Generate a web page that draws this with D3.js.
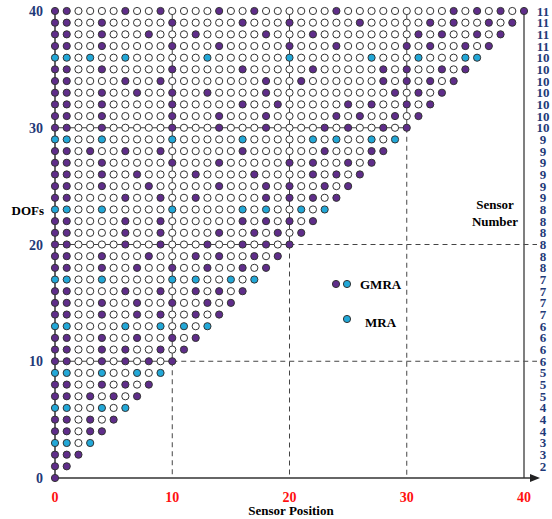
<!DOCTYPE html>
<html>
<head>
<meta charset="utf-8">
<script src="https://cdn.jsdelivr.net/npm/d3@7"></script>
<style>
body { margin: 0; background: #fff; }
svg { display: block; }
</style>
</head>
<body>
<svg width="552" height="519"></svg>
<script>
// sensor positions for each DOF row (row index = DOF)
var rows = [
  [0],
  [0,1],
  [0,1,2],
  [0,1,3],
  [0,1,3,4],
  [0,1,3,5],
  [0,1,4,6],
  [0,1,3,5,7],
  [0,1,4,6,8],
  [0,1,4,7,9],
  [0,1,4,6,8,10],
  [0,1,4,6,9,11],
  [0,1,4,7,10,12],
  [0,1,6,9,11,13],
  [0,1,4,7,9,12,14],
  [0,1,4,7,10,13,15],
  [0,1,6,9,12,14,16],
  [0,1,4,10,12,15,17],
  [0,1,4,7,10,13,16,18],
  [0,1,4,8,12,14,17,19],
  [0,1,6,9,13,16,18,20],
  [0,1,6,9,14,17,19,21],
  [0,1,6,9,16,18,20,22],
  [0,1,4,10,16,18,21,23],
  [0,1,6,9,12,18,20,22,24],
  [0,1,4,8,14,18,20,23,25],
  [0,1,4,7,12,17,22,24,26],
  [0,1,4,10,14,20,22,25,27],
  [0,1,3,6,9,16,23,27,28],
  [0,1,4,10,16,22,24,27,29],
  [0,1,4,10,14,18,23,25,28,30],
  [0,1,4,10,14,18,24,26,29,31],
  [0,1,4,10,16,19,25,27,30,32],
  [0,1,4,7,10,13,18,29,31,33],
  [0,1,6,9,18,21,28,30,32,34],
  [0,1,4,10,16,22,28,30,33,35],
  [0,1,3,6,13,20,27,31,35,36],
  [0,1,4,10,14,20,24,30,32,35,37],
  [0,1,4,8,12,18,22,31,33,36,38],
  [0,1,4,10,16,20,26,32,34,37,39],
  [0,1,6,9,14,17,24,34,36,38,40]
];
// rows that are MRA (drawn cyan)
var mraRows = [3, 6, 9, 13, 17, 23, 29, 36];
// sensor number for DOF 1..40
var sensorNum = [2,3,3,4,4,4,5,5,5,6,6,6,6,7,7,7,7,8,8,8,8,8,8,9,9,9,9,9,9,10,10,10,10,10,10,10,11,11,11,11];
var xTicks = [0, 10, 20, 30, 40];
var yTicks = [0, 10, 20, 30, 40];
var gridMarks = [10, 20, 30];
var dashedRows = [10, 20];

var purple = "#5f2d8a";
var cyan = "#22a8d8";
var navy = "#1f3a78";
var serif = "'Liberation Serif', 'Times New Roman', serif";

var svg = d3.select("svg");
var x = d3.scaleLinear().domain([0, 40]).range([55, 524]);
var y = d3.scaleLinear().domain([0, 40]).range([478, 11]);

// solid lines through dots, dashed below / right of the diagonal
var g = svg.append("g");
gridMarks.forEach(function(m) {
  g.append("line").attr("x1", x(m)).attr("x2", x(m)).attr("y1", y(40)).attr("y2", y(m))
    .attr("stroke", "#444").attr("stroke-width", 1);
  g.append("line").attr("x1", x(0)).attr("x2", x(m)).attr("y1", y(m)).attr("y2", y(m))
    .attr("stroke", "#444").attr("stroke-width", 1);
  g.append("line").attr("x1", x(m)).attr("x2", x(m)).attr("y1", y(m)).attr("y2", y(0))
    .attr("stroke", "#444").attr("stroke-width", 1).attr("stroke-dasharray", "5,4");
});
dashedRows.forEach(function(m) {
  g.append("line").attr("x1", x(m)).attr("x2", 537).attr("y1", y(m)).attr("y2", y(m))
    .attr("stroke", "#444").attr("stroke-width", 1).attr("stroke-dasharray", "5,4");
});

// right border at x = 40
g.append("line").attr("x1", x(40)).attr("x2", x(40)).attr("y1", y(40)).attr("y2", y(0))
  .attr("stroke", "#555").attr("stroke-width", 1.5);
// y axis
g.append("line").attr("x1", x(0)).attr("x2", x(0)).attr("y1", y(40)).attr("y2", y(0))
  .attr("stroke", "#333").attr("stroke-width", 1.5);
// x axis with arrow
g.append("line").attr("x1", x(0)).attr("x2", 534).attr("y1", y(0)).attr("y2", y(0))
  .attr("stroke", "#333").attr("stroke-width", 1.5);
g.append("path").attr("d", "M530,474 L540,478 L530,482 Z").attr("fill", "#222");

// all cells of the triangle
var cells = [];
rows.forEach(function(r, d) {
  var isMra = mraRows.indexOf(d) >= 0;
  for (var p = 0; p <= d; p++) {
    var on = r.indexOf(p) >= 0;
    cells.push({pos: p, dof: d, fill: on ? (isMra ? cyan : purple) : "#fff"});
  }
});

svg.append("g").selectAll("circle")
  .data(cells)
  .enter()
  .append("circle")
  .attr("cx", function(d) { return x(d.pos); })
  .attr("cy", function(d) { return y(d.dof); })
  .attr("r", 3.6)
  .attr("fill", function(d) { return d.fill; })
  .attr("stroke", "#333")
  .attr("stroke-width", 1);

// tick labels
svg.append("g").selectAll("text")
  .data(xTicks).enter().append("text")
  .attr("x", function(d) { return x(d); })
  .attr("y", 502)
  .attr("text-anchor", "middle")
  .style("font-family", serif).style("font-weight", "bold").style("font-size", "14px")
  .attr("fill", "#ff1010")
  .text(function(d) { return d; });

svg.append("g").selectAll("text")
  .data(yTicks).enter().append("text")
  .attr("x", 43)
  .attr("y", function(d) { return y(d) + 5; })
  .attr("text-anchor", "end")
  .style("font-family", serif).style("font-weight", "bold").style("font-size", "14px")
  .attr("fill", navy)
  .text(function(d) { return d; });

// sensor numbers on the right
svg.append("g").selectAll("text")
  .data(sensorNum).enter().append("text")
  .attr("x", 543)
  .attr("y", function(d, i) { return y(i + 1) + 4.5; })
  .attr("text-anchor", "middle")
  .style("font-family", serif).style("font-weight", "bold").style("font-size", "13px")
  .attr("fill", navy)
  .text(function(d) { return d; });

// titles
svg.append("text").attr("x", 291).attr("y", 515).attr("text-anchor", "middle")
  .style("font-family", serif).style("font-weight", "bold").style("font-size", "13px")
  .text("Sensor Position");
svg.append("text").attr("x", 44).attr("y", 215).attr("text-anchor", "end")
  .style("font-family", serif).style("font-weight", "bold").style("font-size", "13px")
  .text("DOFs");
svg.append("text").attr("x", 495).attr("y", 209).attr("text-anchor", "middle")
  .style("font-family", serif).style("font-weight", "bold").style("font-size", "13px")
  .text("Sensor");
svg.append("text").attr("x", 495).attr("y", 226).attr("text-anchor", "middle")
  .style("font-family", serif).style("font-weight", "bold").style("font-size", "13px")
  .text("Number");

// legend
var leg = svg.append("g");
leg.append("circle").attr("cx", 336).attr("cy", 284).attr("r", 3.6).attr("fill", purple).attr("stroke", "#333");
leg.append("circle").attr("cx", 347).attr("cy", 284).attr("r", 3.6).attr("fill", cyan).attr("stroke", "#333");
leg.append("circle").attr("cx", 347).attr("cy", 319).attr("r", 3.6).attr("fill", cyan).attr("stroke", "#333");
leg.append("text").attr("x", 360).attr("y", 289)
  .style("font-family", serif).style("font-weight", "bold").style("font-size", "13px").text("GMRA");
leg.append("text").attr("x", 365).attr("y", 327)
  .style("font-family", serif).style("font-weight", "bold").style("font-size", "13px").text("MRA");
</script>
</body>
</html>
